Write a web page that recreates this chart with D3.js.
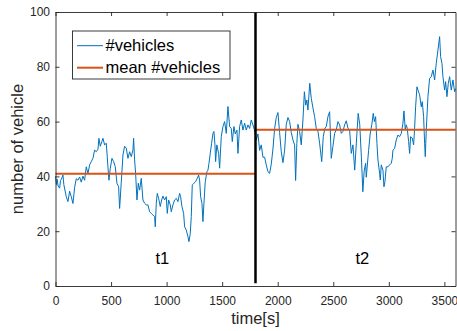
<!DOCTYPE html>
<html>
<head>
<meta charset="utf-8">
<script src="https://cdn.jsdelivr.net/npm/d3@7"></script>
<style>
  body { margin: 0; background: #fff; }
  svg { display: block; font-family: "Liberation Sans", Arial, sans-serif; }
</style>
</head>
<body>
<div id="chart"></div>
<script>
// time stamps (s) and vehicle counts
const timeS = [0, 8, 15, 23, 37, 45, 53, 67, 75, 97, 112, 127, 142, 157, 172, 187, 202, 217, 232, 247,
  262, 277, 292, 307, 322, 337, 352, 367, 382, 391, 403, 418, 427, 442, 457, 472, 481, 493, 508, 523,
  538, 553, 568, 577, 592, 607, 622, 637, 652, 667, 682, 697, 703, 712, 721, 733, 745, 757, 772, 787,
  802, 817, 832, 847, 862, 877, 892, 898, 907, 916, 928, 943, 955, 967, 982, 997, 1006, 1018, 1033, 1042,
  1057, 1072, 1087, 1102, 1117, 1126, 1138, 1153, 1162, 1177, 1192, 1201, 1213, 1222, 1231, 1246, 1261, 1276, 1288, 1297,
  1306, 1318, 1327, 1336, 1348, 1363, 1372, 1381, 1393, 1405, 1417, 1426, 1435, 1441, 1452, 1468, 1477, 1492, 1507, 1522,
  1537, 1552, 1567, 1582, 1591, 1606, 1618, 1633, 1642, 1657, 1672, 1687, 1702, 1717, 1732, 1747, 1762, 1777, 1790, 1800,
  1807, 1822, 1837, 1852, 1867, 1882, 1897, 1912, 1927, 1942, 1957, 1972, 1987, 2002, 2017, 2032, 2047, 2062, 2077, 2092,
  2107, 2122, 2137, 2152, 2161, 2172, 2182, 2197, 2212, 2227, 2240, 2252, 2262, 2272, 2288, 2302, 2317, 2332, 2347, 2362,
  2377, 2396, 2410, 2425, 2437, 2452, 2467, 2482, 2497, 2512, 2527, 2542, 2557, 2572, 2587, 2602, 2617, 2632, 2647, 2662,
  2677, 2693, 2708, 2724, 2738, 2753, 2766, 2778, 2791, 2797, 2818, 2832, 2847, 2860, 2870, 2881, 2893, 2902, 2917, 2923,
  2932, 2947, 2956, 2965, 2977, 2992, 3007, 3022, 3031, 3037, 3052, 3067, 3082, 3097, 3112, 3127, 3136, 3148, 3157, 3166,
  3178, 3187, 3196, 3211, 3223, 3232, 3241, 3253, 3262, 3277, 3292, 3301, 3313, 3322, 3328, 3337, 3352, 3367, 3382, 3397,
  3412, 3427, 3442, 3457, 3466, 3478, 3487, 3502, 3511, 3523, 3535, 3547, 3562, 3577, 3592, 3600];

const vehicles = [40, 37, 39, 36.5, 35.7, 38.5, 39, 40.5, 37, 32.6, 30.8, 34.6, 32.6, 30.1, 35.9, 39.2, 38.6, 39.8, 37.9, 40.1,
  38.6, 43.5, 41.1, 44.2, 45.4, 46.6, 49.6, 49, 49.9, 53.9, 51, 52.8, 53.9, 51.5, 52.1, 43.5, 38.6, 42.9, 46.6, 45.4,
  43.5, 37.5, 36.2, 28.3, 37.9, 47.8, 51, 50.3, 46.6, 49, 47.2, 49.6, 53.9, 46, 41.1, 31.4, 37.5, 35, 39.3, 31.4,
  30.2, 29.6, 29.6, 27.1, 26.5, 25.9, 25.3, 21.6, 30.2, 33.8, 32, 29, 31.4, 32.8, 31.4, 32.6, 26.5, 31.4, 29.6, 27.1,
  29.6, 31.4, 32, 30.8, 33.8, 32.6, 29, 26.5, 21.6, 20.4, 18, 16.2, 19.2, 25.3, 36.9, 37.5, 38.1, 39.3, 40.5, 38.7,
  32.6, 30.2, 23.5, 30.2, 38.1, 41.7, 42.3, 44.7, 48.4, 52.1, 55.7, 56.4, 51.5, 45.4, 51.5, 48.4, 43, 54.5, 58.2, 60,
  55.7, 65.5, 58.2, 57.5, 52.7, 58.2, 55.5, 56.9, 48.4, 58.2, 60.6, 56.9, 59.4, 56.9, 58.8, 57.5, 60.6, 58.8, 57, 55,
  53.3, 55.5, 49.5, 51.5, 47, 47, 44.2, 41.7, 41.1, 44.5, 50, 57.5, 61.5, 63.3, 56, 49, 45, 49.6, 59, 61.5,
  60, 56, 53.3, 51.5, 38.5, 52, 59, 56.4, 51.5, 60.6, 70.9, 66, 67.9, 64.2, 74, 68.5, 65, 61.8, 57.5, 56.5,
  52.1, 45.4, 54.5, 57.6, 58.2, 61.8, 63.6, 46.6, 51, 55.7, 57, 60, 58.8, 55.7, 56.4, 58.8, 60.3, 57.6, 57, 48.4,
  51.5, 42.3, 52.5, 63, 59, 47, 34.4, 42, 44.8, 39.7, 49.5, 55.5, 59, 63, 60, 61.8, 52.1, 46, 41.1, 38.7,
  44.2, 42.3, 36.2, 38.1, 43.5, 43.5, 44.2, 44.8, 46.6, 49.6, 50.2, 53.3, 55.1, 54.5, 55.7, 59.4, 63.9, 57, 58.8, 57.5,
  52.7, 48.4, 54.5, 54, 51.5, 57.6, 65.4, 72.7, 71.5, 69.8, 65.4, 67.3, 61.8, 52.1, 47.2, 57, 69.1, 75.8, 76.4, 78.8,
  75.2, 81.3, 86.1, 91, 83.7, 81.3, 76.4, 71.5, 74.6, 69.1, 73.9, 76.4, 71.5, 75.2, 70.9, 72];

// mean over each interval
const meanStart = [0, 1800];
const meanEnd = [1800, 3600];
const meanValue = [41, 57];

const splitTime = 1800;
const phaseLabels = ["t1", "t2"];
const phaseX = [900, 2700];

const xTicks = [0, 500, 1000, 1500, 2000, 2500, 3000, 3500];
const yTicks = [0, 20, 40, 60, 80, 100];
const legendLabels = ["#vehicles", "mean #vehicles"];

const W = 457, H = 331;
const margin = { top: 12, right: 1.5, bottom: 45, left: 55.5 };
const blue = "#0072BD", orange = "#D95319", axisColor = "#262626";

const svg = d3.select("#chart").append("svg")
  .attr("width", W)
  .attr("height", H);

const x = d3.scaleLinear().domain([0, 3600]).range([margin.left, W - margin.right]);
const y = d3.scaleLinear().domain([0, 100]).range([H - margin.bottom, margin.top]);

// data line
const line = d3.line()
  .x(i => x(timeS[i]))
  .y(i => y(vehicles[i]));

svg.append("path")
  .datum(d3.range(timeS.length))
  .attr("fill", "none")
  .attr("stroke", blue)
  .attr("stroke-width", 1)
  .attr("stroke-linejoin", "round")
  .attr("d", line);

// mean lines
svg.selectAll(".mean")
  .data(meanValue)
  .join("line")
  .attr("class", "mean")
  .attr("x1", (d, i) => x(meanStart[i]))
  .attr("x2", (d, i) => x(meanEnd[i]))
  .attr("y1", d => y(d))
  .attr("y2", d => y(d))
  .attr("stroke", orange)
  .attr("stroke-width", 2);

// split marker
svg.append("line")
  .attr("x1", x(splitTime)).attr("x2", x(splitTime))
  .attr("y1", y(1)).attr("y2", y(100))
  .attr("stroke", "#000")
  .attr("stroke-width", 2.5);

svg.selectAll(".phase")
  .data(phaseLabels)
  .join("text")
  .attr("class", "phase")
  .attr("x", (d, i) => x(phaseX[i]))
  .attr("y", y(10))
  .attr("dy", "0.35em")
  .attr("font-size", 16.5)
  .attr("fill", "#000")
  .text(d => d);

// axes, MATLAB box style with inward ticks
const axG = svg.append("g").attr("color", axisColor);

axG.append("g")
  .attr("transform", `translate(0,${y(0)})`)
  .call(d3.axisBottom(x).tickValues(xTicks).tickFormat(d3.format("d"))
    .tickSizeInner(-4).tickSizeOuter(0).tickPadding(10))
  .call(g => g.selectAll("text").attr("font-size", 12).attr("fill", axisColor));

axG.append("g")
  .attr("transform", `translate(0,${y(100)})`)
  .call(d3.axisTop(x).tickValues(xTicks).tickSizeInner(-4).tickSizeOuter(0).tickFormat(""));

axG.append("g")
  .attr("transform", `translate(${x(0)},0)`)
  .call(d3.axisLeft(y).tickValues(yTicks).tickFormat(d3.format("d"))
    .tickSizeInner(-4).tickSizeOuter(0).tickPadding(5.5))
  .call(g => g.selectAll("text").attr("font-size", 12).attr("fill", axisColor));

axG.append("g")
  .attr("transform", `translate(${x(3600)},0)`)
  .call(d3.axisRight(y).tickValues(yTicks).tickSizeInner(-4).tickSizeOuter(0).tickFormat(""));

axG.selectAll(".domain, .tick line").attr("stroke-width", 0.9);
axG.selectAll("text").attr("font-family", "Liberation Sans, Arial, sans-serif");

// axis titles
svg.append("text")
  .attr("x", x(1800))
  .attr("y", 324)
  .attr("text-anchor", "middle")
  .attr("font-size", 16.5)
  .attr("fill", axisColor)
  .text("time[s]");

svg.append("text")
  .attr("transform", `translate(22.5,${y(50)}) rotate(-90)`)
  .attr("text-anchor", "middle")
  .attr("font-size", 16.5)
  .attr("fill", axisColor)
  .text("number of vehicle");

// legend
const legend = svg.append("g").attr("transform", "translate(72.5,31)");
legend.append("rect")
  .attr("width", 157.5)
  .attr("height", 48)
  .attr("fill", "#fff")
  .attr("stroke", axisColor)
  .attr("stroke-width", 0.9);

const items = legend.selectAll(".item")
  .data(legendLabels)
  .join("g")
  .attr("class", "item")
  .attr("transform", (d, i) => `translate(0,${14.7 + i * 22})`);

items.append("line")
  .attr("x1", 4.5).attr("x2", 30.5)
  .attr("stroke", (d, i) => i === 0 ? blue : orange)
  .attr("stroke-width", (d, i) => i === 0 ? 1 : 2);

items.append("text")
  .attr("x", 33)
  .attr("dy", "0.35em")
  .attr("font-size", 16.5)
  .attr("fill", "#000")
  .text(d => d);
</script>
</body>
</html>
